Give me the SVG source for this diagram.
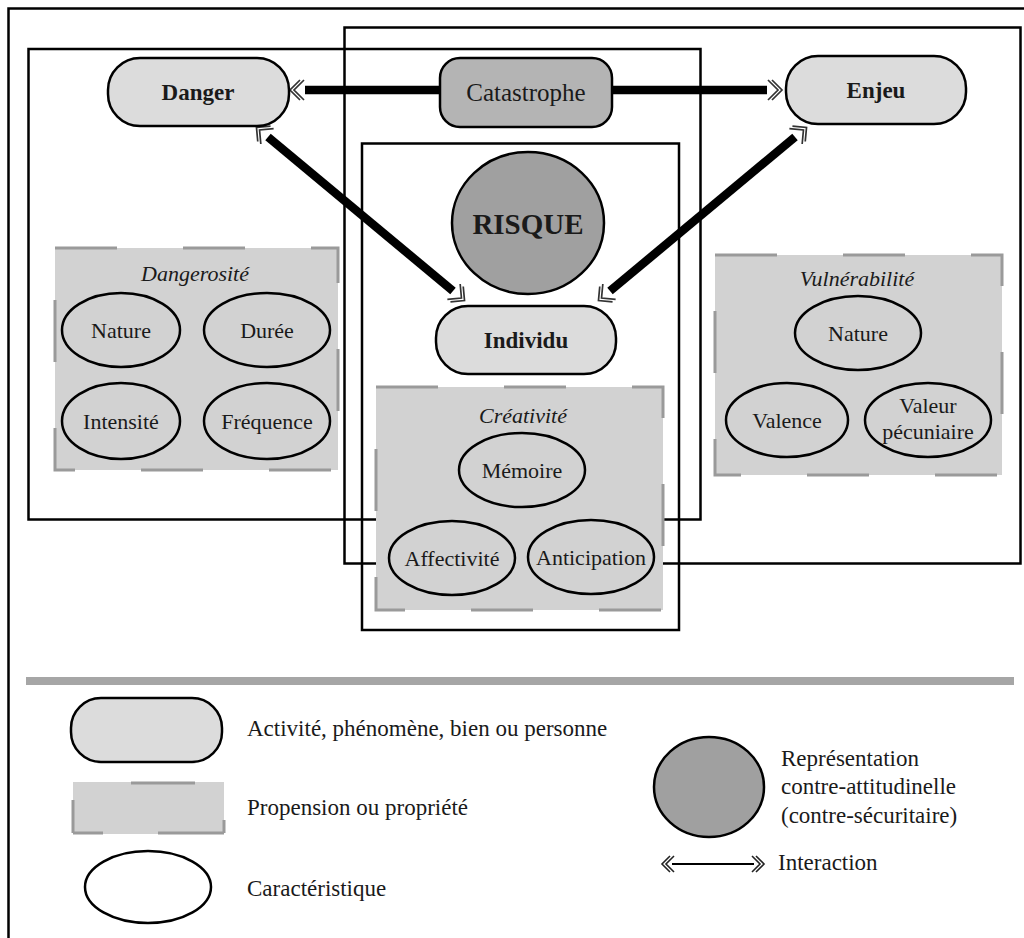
<svg xmlns="http://www.w3.org/2000/svg" width="1024" height="938" viewBox="0 0 1024 938">
<style>
.frame{fill:none;stroke:#000;stroke-width:2.5}
.pill{fill:#dcdcdc;stroke:#000;stroke-width:2.5}
.cat{fill:#b4b4b4;stroke:#000;stroke-width:2.5}
.prop{fill:#d2d2d2;stroke:#9a9a9a;stroke-width:3;stroke-dasharray:62 66}
.ell{fill:none;stroke:#000;stroke-width:2.5}
.ellw{fill:#fff;stroke:#000;stroke-width:2.5}
.risk{fill:#a0a0a0;stroke:#000;stroke-width:2.5}
.conn{stroke:#000;stroke-width:8.5;fill:none}
.t{font-family:"Liberation Serif","Times New Roman",serif;fill:#1a1a1a;text-anchor:middle;dominant-baseline:central}
.b{font-weight:bold;font-size:23px}
.n{font-size:22px}
.i{font-style:italic;font-size:22px}
.lg{font-family:"Liberation Serif","Times New Roman",serif;fill:#1a1a1a;font-size:23px;dominant-baseline:central}
</style>
<defs>
<marker id="dbl" markerUnits="userSpaceOnUse" markerWidth="28" markerHeight="28" viewBox="-14 -14 28 28" refX="-5" refY="0" orient="auto-start-reverse">
<path d="M-4,-10 L6,0 L-4,10 M0,-10 L10,0 L0,10" fill="none" stroke="#333" stroke-width="1.7"/>
</marker>
<marker id="dbls" markerUnits="userSpaceOnUse" markerWidth="24" markerHeight="24" viewBox="-12 -12 24 24" refX="-2" refY="0" orient="auto-start-reverse">
<path d="M-4,-8 L4,0 L-4,8 M0,-8 L8,0 L0,8" fill="none" stroke="#222" stroke-width="1.6"/>
</marker>
</defs>
<rect width="1024" height="938" fill="#fff"/>

<g id="frames">
<path class="frame" d="M8.5,938 V8.5 H1024"/>
<rect class="frame" x="344.5" y="27.5" width="676" height="536"/>
<rect class="frame" x="28.5" y="49" width="672" height="470.5"/>
<rect class="frame" x="362" y="143.5" width="317" height="486.5"/>
</g>

<g id="connectors">
<line class="conn" x1="305" y1="90" x2="767" y2="90" marker-start="url(#dbl)" marker-end="url(#dbl)"/>
<line class="conn" x1="268" y1="137" x2="453" y2="291" marker-start="url(#dbl)" marker-end="url(#dbl)"/>
<line class="conn" x1="795" y1="137" x2="610" y2="291" marker-start="url(#dbl)" marker-end="url(#dbl)"/>
</g>

<g id="danger"><rect class="pill" x="108" y="58" width="181" height="68" rx="32"/><text class="t b" x="198" y="92">Danger</text></g>
<g id="catastrophe"><rect class="cat" x="440" y="58" width="172" height="69" rx="20"/><text class="t" x="526" y="92" style="font-size:25px">Catastrophe</text></g>
<g id="enjeu"><rect class="pill" x="786" y="56" width="180" height="68" rx="32"/><text class="t b" x="876" y="90">Enjeu</text></g>
<g id="risque"><ellipse class="risk" cx="528" cy="223" rx="76" ry="71"/><text class="t" x="528" y="224" style="font-weight:bold;font-size:29px">RISQUE</text></g>
<g id="individu"><rect class="pill" x="436" y="306" width="180" height="68" rx="32"/><text class="t b" x="526" y="340">Individu</text></g>

<g id="dangerosite">
<rect class="prop" x="55" y="248" width="283" height="222"/>
<text class="t i" x="195" y="273">Dangerosité</text>
<ellipse class="ell" cx="121" cy="330" rx="59" ry="37"/><text class="t n" x="121" y="330">Nature</text>
<ellipse class="ell" cx="267" cy="330" rx="63" ry="37"/><text class="t n" x="267" y="330">Durée</text>
<ellipse class="ell" cx="121" cy="421" rx="59" ry="38"/><text class="t n" x="121" y="421">Intensité</text>
<ellipse class="ell" cx="267" cy="421" rx="63" ry="38"/><text class="t n" x="267" y="421">Fréquence</text>
</g>

<g id="vulnerabilite">
<rect class="prop" x="715" y="255" width="287" height="220"/>
<text class="t i" x="857" y="278">Vulnérabilité</text>
<ellipse class="ell" cx="858" cy="333" rx="63" ry="37"/><text class="t n" x="858" y="333">Nature</text>
<ellipse class="ell" cx="787" cy="420" rx="61" ry="37"/><text class="t n" x="787" y="420">Valence</text>
<ellipse class="ell" cx="928" cy="420" rx="63" ry="37"/><text class="t n" x="928" y="405">Valeur</text><text class="t n" x="928" y="431">pécuniaire</text>
</g>

<g id="creativite">
<rect class="prop" x="376" y="387" width="287" height="223"/>
<text class="t i" x="523" y="415">Créativité</text>
<ellipse class="ell" cx="522" cy="470" rx="63" ry="37"/><text class="t n" x="522" y="470">Mémoire</text>
<ellipse class="ell" cx="452" cy="558" rx="63" ry="37"/><text class="t n" x="452" y="558">Affectivité</text>
<ellipse class="ell" cx="591" cy="557" rx="63" ry="37"/><text class="t n" x="591" y="557">Anticipation</text>
</g>

<g id="legend">
<line x1="26" y1="681" x2="1014" y2="681" stroke="#a6a6a6" stroke-width="8"/>
<rect class="pill" x="71" y="698" width="151" height="64" rx="30"/>
<text class="lg" x="247" y="728">Activité, phénomène, bien ou personne</text>
<rect x="73" y="782" width="151" height="52" fill="#d2d2d2"/>
<path d="M131,783 H195 M73,833 H103 M158,833 H224 M73,800 V833 M224,820 V833" stroke="#9a9a9a" stroke-width="3" fill="none"/>
<text class="lg" x="247" y="807">Propension ou propriété</text>
<ellipse class="ellw" cx="148" cy="887" rx="63" ry="36"/>
<text class="lg" x="247" y="888">Caractéristique</text>
<ellipse class="risk" cx="709" cy="787" rx="55" ry="50"/>
<text class="lg" x="781" y="758">Représentation</text>
<text class="lg" x="781" y="786">contre-attitudinelle</text>
<text class="lg" x="781" y="815">(contre-sécuritaire)</text>
<line x1="672" y1="864" x2="754" y2="864" stroke="#000" stroke-width="2" marker-start="url(#dbls)" marker-end="url(#dbls)"/>
<text class="lg" x="778" y="862">Interaction</text>
</g>
</svg>
